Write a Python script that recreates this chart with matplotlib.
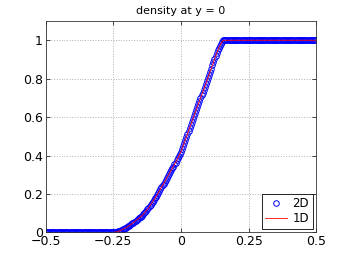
import matplotlib
matplotlib.use("Agg")
import matplotlib.pyplot as plt
import numpy as np

# sample positions along the line y = 0
x_vals = np.round(np.linspace(-0.5, 0.5, 251), 3)

# density, one value per sample position
rho_left = [0.0] * 63  # x = -0.500 .. -0.252
rho_fan = [0.001, 0.002, 0.003, 0.004, 0.006, 0.008, 0.010, 0.013, 0.016, 0.018,
           0.021, 0.025, 0.028, 0.032, 0.035, 0.039, 0.043, 0.047, 0.051, 0.056,
           0.060, 0.065, 0.069, 0.073, 0.078, 0.083, 0.088, 0.094, 0.100, 0.107,
           0.114, 0.121, 0.128, 0.136, 0.144, 0.152, 0.161, 0.169, 0.178, 0.187,
           0.197, 0.206, 0.216, 0.226, 0.235, 0.245, 0.254, 0.264, 0.274, 0.283,
           0.293, 0.303, 0.313, 0.323, 0.333, 0.343, 0.354, 0.364, 0.375, 0.386,
           0.397, 0.408, 0.420, 0.436, 0.451, 0.467, 0.482, 0.497, 0.513, 0.528,
           0.544, 0.559, 0.575, 0.590, 0.606, 0.621, 0.637, 0.652, 0.667, 0.682,
           0.698, 0.713, 0.728, 0.743, 0.758, 0.774, 0.789, 0.805, 0.821, 0.837,
           0.853, 0.869, 0.885, 0.901, 0.917, 0.932, 0.947, 0.960, 0.972, 0.983,
           0.992]  # x = -0.248 .. 0.152
rho_right = [1.0] * 87  # x = 0.156 .. 0.500
rho_2d = rho_left + rho_fan + rho_right
rho_1d = rho_2d

x_ticks = [-0.5, -0.25, 0, 0.25, 0.5]
x_ticklabels = ["\u22120.5", "\u22120.25", "0", "0.25", "0.5"]
y_ticks = [0, 0.2, 0.4, 0.6, 0.8, 1]
y_ticklabels = ["0", "0.2", "0.4", "0.6", "0.8", "1"]

plt.rcParams['font.family'] = ['DejaVu Sans']
fig = plt.figure(figsize=(3.49, 2.63), dpi=100)
ax = fig.add_axes([0.131, 0.116, 0.775, 0.804])

ax.plot(x_vals, rho_2d, 'o', mfc='none', mec='blue', ms=4, mew=0.7, label='2D')
ax.plot(x_vals, rho_1d, '-', color='red', lw=0.6, label='1D')

ax.set_xlim(-0.5, 0.5)
ax.set_ylim(0, 1.1)
ax.set_xticks(x_ticks)
ax.set_xticklabels(x_ticklabels)
ax.set_yticks(y_ticks)
ax.set_yticklabels(y_ticklabels)
ax.tick_params(direction='in', labelsize=9, length=3, width=0.5, pad=2,
               top=True, right=True)
ax.grid(True, linestyle=':', color='#b0b0b0', linewidth=0.7)
for s in ax.spines.values():
    s.set_linewidth(0.6)
    s.set_color('#333333')
ax.set_title('density at y = 0', fontsize=8, pad=5)

leg = ax.legend(loc='lower right', fontsize=8.5, fancybox=False, framealpha=1,
                edgecolor='black', borderpad=0.3, handlelength=1.8,
                handletextpad=0.5, labelspacing=0.2, borderaxespad=0.3)
leg.get_frame().set_linewidth(0.6)

fig.savefig('out.png', dpi=100)
